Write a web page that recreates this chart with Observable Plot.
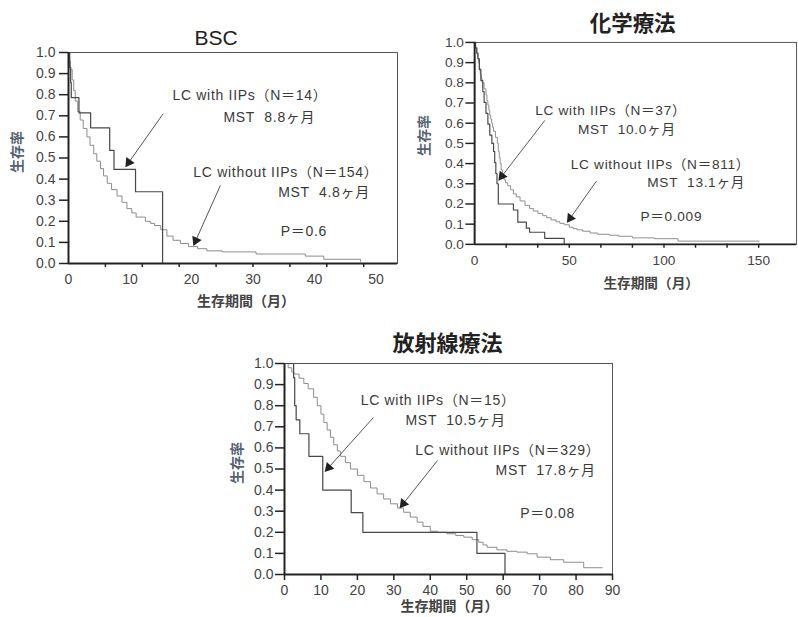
<!DOCTYPE html>
<html>
<head>
<meta charset="utf-8">
<script src="https://cdn.jsdelivr.net/npm/d3@7"></script>
<script src="https://cdn.jsdelivr.net/npm/@observablehq/plot@0.6"></script>
<style>
  html, body { margin: 0; padding: 0; background: #fff; }
  body { width: 798px; height: 617px; overflow: hidden; position: relative; }
  .panel { position: absolute; }
  .panel g[aria-label*="tick label"], .panel g[aria-label*="tick label"] text { font-size: 14px !important; }
</style>
</head>
<body>
<div id="bsc" class="panel" style="left:0px;top:0px"></div>
<div id="chemo" class="panel" style="left:400px;top:0px"></div>
<div id="radio" class="panel" style="left:230px;top:320px"></div>
<script>
// ---------- data (time in months, survival rate) ----------
const yTicks = [0, 0.1, 0.2, 0.3, 0.4, 0.5, 0.6, 0.7, 0.8, 0.9, 1.0];
const yLabel = "生存率";
const xLabel = "生存期間（月）";

// BSC
const bscTitle = "BSC";
const bscXTickLabels = [0, 10, 20, 30, 40, 50];
const bscXTickMarks = [6, 12, 18, 24, 30, 36, 42, 48];
const bscWith = [[0,1],[0.2,0.929],[0.35,0.857],[0.45,0.786],[1.7,0.714],[3.6,0.643],[6.7,0.536],[7.4,0.446],[10.9,0.34],[15.3,0]];
const bscWithout = [[0,1],[0.15,0.96],[0.3,0.92],[0.6,0.87],[0.85,0.82],[1.1,0.77],[1.5,0.72],[1.9,0.68],[2.4,0.64],[3,0.6],[3.5,0.56],[4.1,0.52],[4.6,0.485],[5.2,0.45],[5.7,0.415],[6.3,0.38],[7,0.35],[7.9,0.32],[8.7,0.29],[9.5,0.26],[10.3,0.24],[11,0.22],[12.5,0.2],[13.3,0.19],[14,0.18],[15,0.16],[16,0.13],[17,0.11],[18.2,0.095],[19.5,0.08],[21,0.07],[22.5,0.06],[25,0.055],[30.5,0.045],[38.5,0.035],[41.5,0.02],[47.5,0.01]];
const bscNotes = ["LC with IIPs（N＝14）", "MST\u00a0\u00a08.8ヶ月", "LC without IIPs（N＝154）", "MST\u00a0\u00a04.8ヶ月", "P＝0.6"];

// 化学療法
const chemoTitle = "化学療法";
const chemoXTickLabels = [0, 50, 100, 150];
const chemoXTickMarks = [50/3, 100/3, 50, 200/3, 250/3, 100, 350/3, 400/3, 150];
const chemoWith = [[0,1],[0.5,0.973],[1.2,0.946],[1.8,0.919],[2.5,0.865],[3.3,0.811],[4.3,0.757],[5,0.703],[6,0.649],[7,0.595],[8,0.541],[9.1,0.5],[10,0.46],[10.6,0.405],[11.2,0.351],[11.8,0.3],[12.5,0.2],[20.5,0.17],[22.8,0.11],[27.3,0.08],[29,0.06],[37,0.03],[47.3,0]];
const chemoWithout = [[0,1],[0.5,0.97],[1,0.95],[1.5,0.92],[2,0.9],[2.5,0.87],[3,0.84],[3.5,0.82],[4,0.8],[5,0.77],[6,0.74],[6.5,0.71],[7,0.69],[7.5,0.665],[8,0.64],[8.5,0.62],[9,0.6],[9.5,0.58],[10,0.56],[11,0.53],[12,0.5],[12.5,0.46],[13,0.43],[13.5,0.4],[14,0.37],[14.6,0.34],[15.5,0.32],[16.3,0.305],[17.5,0.29],[19,0.27],[20.5,0.25],[22,0.235],[24,0.215],[26.6,0.193],[29,0.178],[31,0.165],[33.5,0.153],[36,0.142],[38,0.132],[40.4,0.121],[43,0.112],[45,0.104],[47.3,0.097],[50,0.085],[52,0.078],[54.1,0.072],[57,0.065],[61,0.056],[65,0.05],[71.3,0.045],[76,0.04],[83.3,0.032],[95,0.028],[107.4,0.016],[150.3,0.016]];
const chemoNotes = ["LC with IIPs（N＝37）", "MST\u00a0\u00a010.0ヶ月", "LC without IIPs（N＝811）", "MST\u00a0\u00a013.1ヶ月", "P＝0.009"];

// 放射線療法
const radioTitle = "放射線療法";
const radioXTickLabels = [0, 10, 20, 30, 40, 50, 60, 70, 80, 90];
const radioXTickMarks = [0, 10, 20, 30, 40, 50, 60, 70, 80, 90];
const radioWith = [[0,1],[2.5,0.933],[2.8,0.8],[3.2,0.733],[4.2,0.667],[6.7,0.56],[10.5,0.4],[18.3,0.293],[21.5,0.2],[52.8,0.1],[60.5,0]];
const radioWithout = [[0,1],[1,0.98],[2,0.96],[2.6,0.95],[4,0.93],[5.3,0.905],[6.5,0.88],[8,0.84],[9,0.8],[10,0.76],[10.8,0.72],[11.7,0.685],[12.6,0.65],[13.5,0.615],[14.5,0.585],[15.4,0.56],[16.7,0.53],[18.1,0.5],[20,0.47],[21.8,0.44],[23.6,0.41],[25.4,0.382],[27.2,0.358],[29.1,0.335],[31,0.315],[32.7,0.295],[34.5,0.272],[36.4,0.248],[38,0.228],[40,0.205],[42,0.2],[44.6,0.193],[47,0.185],[49.2,0.177],[51.5,0.165],[53.3,0.153],[54.5,0.14],[55.6,0.129],[58.3,0.117],[61,0.11],[63.8,0.106],[66.6,0.098],[69.3,0.082],[73,0.07],[76.6,0.058],[82.1,0.032],[87.2,0.032]];
const radioNotes = ["LC with IIPs（N＝15）", "MST\u00a0\u00a010.5ヶ月", "LC without IIPs（N＝329）", "MST\u00a0\u00a017.8ヶ月", "P＝0.08"];

// ---------- layout (positions, not data) ----------
const FONT = "'Liberation Sans', Arial, 'Noto Sans CJK JP', sans-serif";
const panels = [
  {el: "bsc", title: bscTitle, titleSize: 21, titleWeight: "normal", withD: bscWith, withoutD: bscWithout, notes: bscNotes,
   tickLabels: bscXTickLabels, tickMarks: bscXTickMarks,
   width: 400, height: 310, ml: 68, mr: 3, mt: 52, mb: 47, xmax: 53.5,
   titleD: [-17, -14], xlabD: [13, 38], ylabD: [-51, -6], ypad: 4, marksize: 4,
   notePos: [[16.9,0.796],[25.2,0.692],[20.3,0.431],[34.1,0.336],[34.5,0.152]],
   arrows: [{x1:15.4,y1:0.71,x2:9.8,y2:0.479},{x1:24.7,y1:0.37,x2:20.7,y2:0.109}]},
  {el: "chemo", title: chemoTitle, titleSize: 22, titleWeight: "bold", withD: chemoWith, withoutD: chemoWithout, notes: chemoNotes,
   tickLabels: chemoXTickLabels, tickMarks: chemoXTickMarks,
   width: 408, height: 310, ml: 76, mr: 2, mt: 43, mb: 60, xmax: 170,
   titleD: [-3, -19], xlabD: [16, 40], ylabD: [-51, -8], ypad: 2, marksize: 4,
   notePos: [[32,0.662],[54.6,0.570],[50.8,0.396],[91.2,0.304],[87.6,0.135]],
   arrows: [{x1:37.1,y1:0.614,x2:14.4,y2:0.338},{x1:64.4,y1:0.314,x2:50.5,y2:0.130}]},
  {el: "radio", title: radioTitle, titleSize: 22, titleWeight: "bold", withD: radioWith, withoutD: radioWithout, notes: radioNotes,
   tickLabels: radioXTickLabels, tickMarks: radioXTickMarks,
   width: 400, height: 297, ml: 54, mr: 18, mt: 43, mb: 43, xmax: 90,
   titleD: [-1, -20], xlabD: [1, 32], ylabD: [-47, -6], ypad: 2, marksize: 6,
   notePos: [[20.9,0.825],[33.2,0.730],[35.9,0.588],[57.9,0.493],[64.7,0.289]],
   arrows: [{x1:24.4,y1:0.744,x2:12.1,y2:0.507},{x1:41.97,y1:0.540,x2:32.6,y2:0.336}]}
];

for (const p of panels) {
  const kx = (p.width - p.ml - p.mr) / p.xmax;
  const ky = (p.height - p.mt - p.mb);
  const arrows = p.arrows.map(a => ({...a, rot: Math.atan2(-(a.y2 - a.y1) * ky, (a.x2 - a.x1) * kx) * 180 / Math.PI + 90}));
  const notes = p.notes.map((t, i) => ({t, x: p.notePos[i][0], y: p.notePos[i][1]}));
  const chart = Plot.plot({
    width: p.width, height: p.height,
    marginLeft: p.ml, marginRight: p.mr, marginTop: p.mt, marginBottom: p.mb,
    x: {domain: [0, p.xmax]},
    y: {domain: [0, 1]},
    style: {fontFamily: FONT, fontSize: "14px", color: "#3a3a3a", background: "transparent", overflow: "visible"},
    marks: [
      Plot.frame({stroke: "#555", strokeWidth: 1}),
      Plot.line(p.withoutD, {x: d => d[0], y: d => d[1], curve: "step-after", stroke: "#8c8c8c", strokeWidth: 1}),
      Plot.line(p.withD, {x: d => d[0], y: d => d[1], curve: "step-after", stroke: "#474747", strokeWidth: 1.2}),
      Plot.ruleX([0], {stroke: "#222", strokeWidth: 2}),
      Plot.ruleY([0], {stroke: "#222", strokeWidth: 2}),
      Plot.axisY({ticks: yTicks, tickFormat: d3.format(".1f"), tickSize: 9, tickPadding: p.ypad, label: null, stroke: "#222", strokeWidth: 1.5, fill: "#444"}),
      Plot.axisX({ticks: p.tickMarks, tickFormat: () => "", tickSize: p.marksize, label: null, stroke: "#222", strokeWidth: 1.5}),
      Plot.axisX({ticks: p.tickLabels, tickSize: 0, tickPadding: 11, label: null, fill: "#444"}),
      Plot.link(arrows, {x1: "x1", y1: "y1", x2: "x2", y2: "y2", stroke: "#555", strokeWidth: 1}),
      Plot.dot(arrows, {x: "x2", y: "y2", symbol: "triangle", r: 3.8, fill: "#222", stroke: "none", rotate: "rot"}),
      Plot.text(notes, {x: "x", y: "y", text: "t", textAnchor: "start", lineAnchor: "middle", fontSize: 14, fill: "#3a3a3a"}),
      Plot.text([p.title], {text: d => d, frameAnchor: "top", textAnchor: "middle", lineAnchor: "middle", dx: p.titleD[0], dy: p.titleD[1], fontSize: p.titleSize, fontWeight: p.titleWeight, fill: "#222"}),
      Plot.text([xLabel], {text: d => d, frameAnchor: "bottom", textAnchor: "middle", lineAnchor: "middle", dx: p.xlabD[0], dy: p.xlabD[1], fontSize: 14, fontWeight: "bold", fill: "#444"}),
      Plot.text([yLabel], {text: d => d, frameAnchor: "left", textAnchor: "middle", lineAnchor: "middle", dx: p.ylabD[0], dy: p.ylabD[1], rotate: -90, fontSize: 14, fontWeight: "bold", fill: "#556070"})
    ]
  });
  // widen annotation text spacing slightly to match the print
  const noteGroup = chart.querySelectorAll('g[aria-label="text"]')[0];
  if (noteGroup) noteGroup.style.letterSpacing = "0.7px";
  document.getElementById(p.el).appendChild(chart);
}
</script>
</body>
</html>
